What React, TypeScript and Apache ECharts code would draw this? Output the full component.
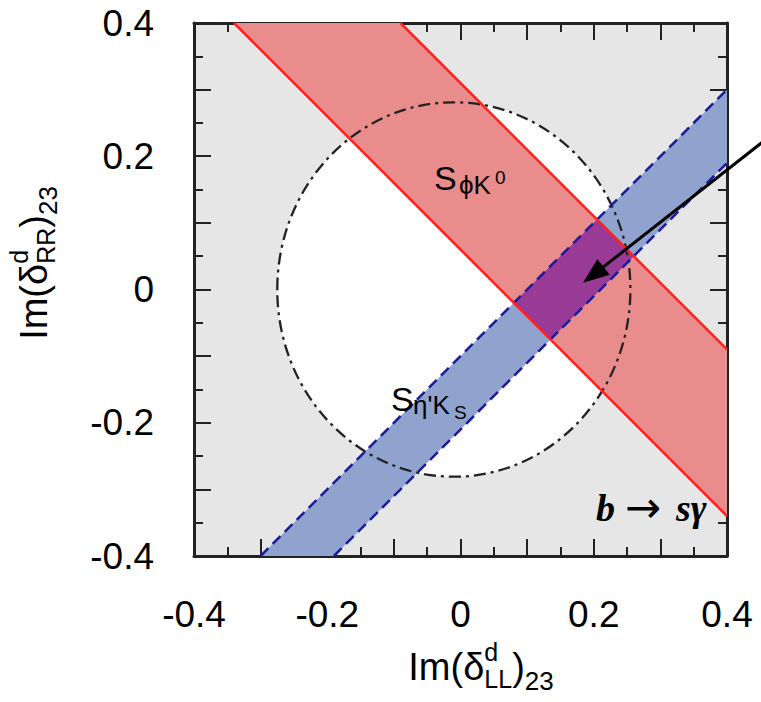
import React, { useEffect, useRef } from 'react';
import * as echarts from 'echarts';

// ---- data ----
const axisMin = -0.4;
const axisMax = 0.4;
const tickLabels = [-0.4, -0.2, 0, 0.2, 0.4];
// allowed circle (dash-dot): cx, cy, rx, ry
const circleRegion = [-0.01, 0.0, 0.265, 0.281];
// S(phi K0) band (red) vertices within the frame
const redBand = [[-0.34, 0.4], [-0.09, 0.4], [0.4, -0.09], [0.4, -0.34]];
// S(eta' Ks) band (blue) vertices within the frame
const blueBand = [[-0.30, -0.4], [-0.19, -0.4], [0.4, 0.19], [0.4, 0.30]];
// overlap region (purple)
const overlapRegion = [[0.08, -0.02], [0.135, -0.075], [0.26, 0.05], [0.205, 0.105]];
// band edges
const redEdgeLower = [[-0.34, 0.4], [0.4, -0.34]];
const redEdgeUpper = [[-0.09, 0.4], [0.4, -0.09]];
const blueEdgeUpper = [[-0.30, -0.4], [0.4, 0.30]];
const blueEdgeLower = [[-0.19, -0.4], [0.4, 0.19]];
// pointer arrow (start outside the frame, tip in the overlap)
const arrowFrom = [0.472, 0.236];
const arrowTo = [0.184, 0.01];

const SANS = '"Liberation Sans", Arial, Helvetica, sans-serif';
const SERIF = '"Liberation Serif", "Times New Roman", serif';

let measureCtx: CanvasRenderingContext2D | null = null;
function measure(text: string, font: string) {
  if (!measureCtx) measureCtx = document.createElement('canvas').getContext('2d');
  measureCtx!.font = font;
  return measureCtx!.measureText(text).width;
}

type Piece = { t: string; size: number; dy: number; keep?: boolean; family?: string; weight?: string; fstyle?: string };

function composeText(pieces: Piece[]) {
  let x = 0;
  let keptStart = -1;
  let keptWidth = 0;
  const els: any[] = [];
  for (const p of pieces) {
    const family = p.family || SANS;
    const weight = p.weight || 'normal';
    const fstyle = p.fstyle || 'normal';
    const font = `${fstyle} ${weight} ${p.size}px ${family}`;
    const w = measure(p.t, font);
    const px = keptStart >= 0 ? keptStart : x;
    els.push({
      type: 'text',
      x: px,
      y: p.dy - 0.35 * p.size,
      silent: true,
      style: {
        text: p.t,
        fontSize: p.size,
        fontFamily: family,
        fontWeight: weight,
        fontStyle: fstyle,
        fill: '#000',
        align: 'left',
        verticalAlign: 'middle',
      },
    });
    if (p.keep) {
      keptStart = x;
      keptWidth = w;
    } else if (keptStart >= 0) {
      x = keptStart + Math.max(w, keptWidth);
      keptStart = -1;
      keptWidth = 0;
    } else {
      x += w;
    }
  }
  return { els, width: x };
}

function polygonSeries(name: string, pts: number[][], color: string) {
  return {
    type: 'custom',
    name,
    coordinateSystem: 'cartesian2d',
    silent: true,
    data: [[0, 0]],
    renderItem: (_p: any, api: any) => ({
      type: 'polygon',
      shape: { points: pts.map((q) => api.coord(q)) },
      style: { fill: color },
    }),
  };
}

function ellipseSeries(name: string, style: any) {
  return {
    type: 'custom',
    name,
    coordinateSystem: 'cartesian2d',
    silent: true,
    data: [[0, 0]],
    renderItem: (_p: any, api: any) => {
      const c = api.coord([circleRegion[0], circleRegion[1]]);
      const s = api.size([circleRegion[2], circleRegion[3]]);
      return { type: 'ellipse', shape: { cx: c[0], cy: c[1], rx: s[0], ry: s[1] }, style };
    },
  };
}

function edgeSeries(name: string, data: number[][], lineStyle: any) {
  return { type: 'line', name, data, symbol: 'none', silent: true, lineStyle };
}

const tickFormatter = (v: number) => {
  const hit = tickLabels.find((t) => Math.abs(t - v) < 1e-6);
  if (hit === undefined) return '';
  return hit === 0 ? '0' : String(hit);
};

export default function App() {
  const ref = useRef<HTMLDivElement>(null);
  useEffect(() => {
    document.body.style.margin = '0';
    const chart = echarts.init(ref.current!, null, { renderer: 'svg' });

    const axisLineStyle = { color: '#222', width: 3 };
    const baseAxis = {
      type: 'value',
      min: axisMin,
      max: axisMax,
      interval: 0.1,
      splitLine: { show: false },
      axisLine: { show: true, onZero: false, lineStyle: axisLineStyle },
      axisTick: { show: true, inside: true, length: 17, lineStyle: { color: '#222', width: 2 } },
      minorTick: { show: true, splitNumber: 2, length: 9, lineStyle: { color: '#222', width: 2 } },
    };

    // axis titles
    const xTitle = composeText([
      { t: 'Im(δ', size: 38, dy: 0 },
      { t: 'd', size: 25, dy: -19, keep: true },
      { t: 'LL', size: 25, dy: 8 },
      { t: ')', size: 38, dy: 0 },
      { t: '23', size: 26, dy: 10 },
    ]);
    const yTitle = composeText([
      { t: 'Im(δ', size: 38, dy: 0 },
      { t: 'd', size: 25, dy: -19, keep: true },
      { t: 'RR', size: 25, dy: 8 },
      { t: ')', size: 38, dy: 0 },
      { t: '23', size: 26, dy: 10 },
    ]);

    const annotations: any[] = [];
    const addText = (t: string, x: number, baseline: number, size: number, extra: any = {}) => {
      annotations.push({
        type: 'text',
        x,
        y: baseline - 0.35 * size,
        silent: true,
        z: 100,
        style: {
          text: t,
          fontSize: size,
          fontFamily: extra.family || SANS,
          fontWeight: extra.weight || 'normal',
          fontStyle: extra.fstyle || 'normal',
          fill: '#000',
          align: 'left',
          verticalAlign: 'middle',
        },
      });
    };
    // S_{phi K0}
    addText('S', 434, 190, 34);
    addText('ϕK', 459, 194, 26);
    addText('0', 495, 184, 19);
    // S_{eta' Ks}
    addText('S', 391, 411, 34);
    addText("η'K", 413, 414, 26);
    addText('S', 454, 419, 19);
    // b -> s gamma
    addText('b', 596, 521, 38, { family: SERIF, weight: 'bold', fstyle: 'italic' });
    addText('→', 625, 522, 43, { family: '"DejaVu Sans", sans-serif' });
    addText('sγ', 676, 521, 38, { family: SERIF, weight: 'bold', fstyle: 'italic' });

    chart.setOption({
      animation: false,
      grid: {
        left: 194,
        top: 23,
        width: 533,
        height: 533,
        show: true,
        backgroundColor: '#e6e6e6',
        borderWidth: 0,
      },
      xAxis: [
        {
          ...baseAxis,
          position: 'bottom',
          axisLabel: { show: true, margin: 40, fontSize: 37, fontFamily: SANS, color: '#000', formatter: tickFormatter },
        },
        { ...baseAxis, position: 'top', axisLabel: { show: false } },
      ],
      yAxis: [
        {
          ...baseAxis,
          position: 'left',
          axisLabel: { show: true, margin: 40, fontSize: 37, fontFamily: SANS, color: '#000', formatter: tickFormatter },
        },
        { ...baseAxis, position: 'right', axisLabel: { show: false } },
      ],
      series: [
        ellipseSeries('allowed', { fill: '#ffffff' }),
        polygonSeries('SphiK0', redBand, '#e98c8c'),
        polygonSeries('SetaKs', blueBand, '#8fa3ce'),
        polygonSeries('overlap', overlapRegion, '#9a3a97'),
        edgeSeries('SetaKs upper', blueEdgeUpper, { color: '#1c1c96', width: 2.5, type: [11, 6] }),
        edgeSeries('SetaKs lower', blueEdgeLower, { color: '#1c1c96', width: 2.5, type: [11, 6] }),
        edgeSeries('SphiK0 lower', redEdgeLower, { color: '#ff2020', width: 2.5 }),
        edgeSeries('SphiK0 upper', redEdgeUpper, { color: '#ff2020', width: 2.5 }),
        ellipseSeries('circle', { fill: 'none', stroke: '#222', lineWidth: 2.3, lineDash: [12, 5, 3, 5] }),
        {
          type: 'custom',
          name: 'arrow',
          coordinateSystem: 'cartesian2d',
          silent: true,
          clip: false,
          z: 10,
          data: [[0, 0]],
          renderItem: (_p: any, api: any) => {
            const a = api.coord(arrowFrom);
            const b = api.coord(arrowTo);
            const dx = b[0] - a[0];
            const dy = b[1] - a[1];
            const L = Math.hypot(dx, dy);
            const ux = dx / L;
            const uy = dy / L;
            const headLen = 26;
            const headW = 10;
            const bx = b[0] - ux * headLen;
            const by = b[1] - uy * headLen;
            return {
              type: 'group',
              children: [
                { type: 'line', shape: { x1: a[0], y1: a[1], x2: bx + ux * 3, y2: by + uy * 3 }, style: { stroke: '#000', lineWidth: 3 } },
                {
                  type: 'polygon',
                  shape: { points: [b, [bx - uy * headW, by + ux * headW], [bx + uy * headW, by - ux * headW]] },
                  style: { fill: '#000' },
                },
              ],
            };
          },
        },
      ],
      graphic: [
        {
          type: 'group',
          x: 481 - xTitle.width / 2,
          y: 680,
          silent: true,
          children: xTitle.els,
        },
        {
          type: 'group',
          x: 47,
          y: 263 + yTitle.width / 2,
          rotation: Math.PI / 2,
          silent: true,
          children: yTitle.els,
        },
        ...annotations,
      ],
    });
    return () => chart.dispose();
  }, []);
  return <div ref={ref} style={{ width: 761, height: 702 }} />;
}
